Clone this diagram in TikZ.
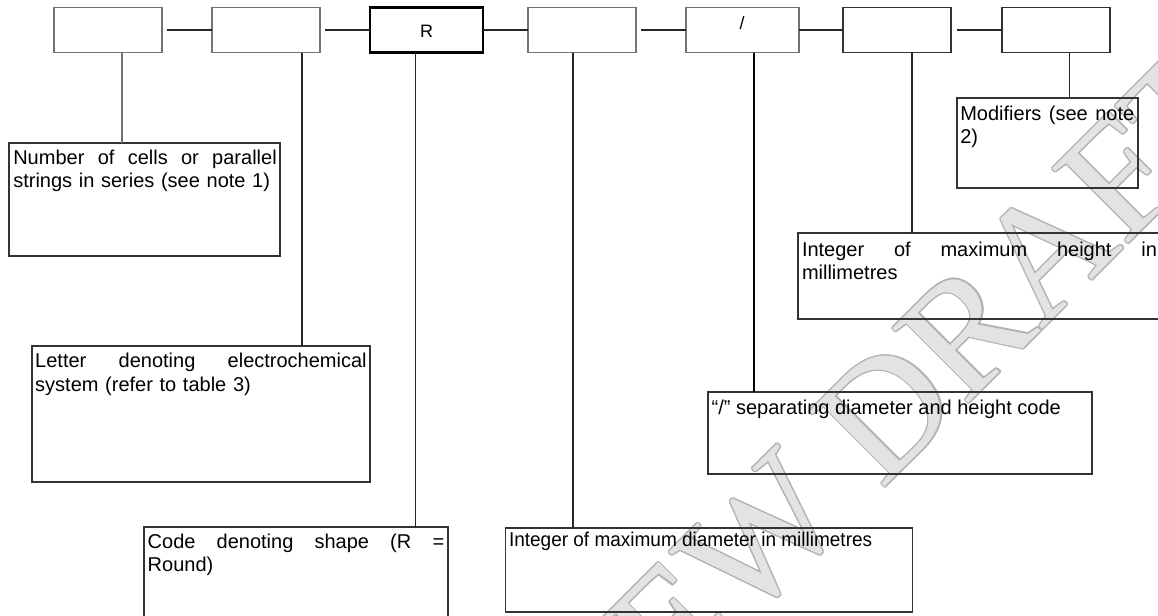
\documentclass[tikz,border=0pt]{standalone}
\usepackage{fontspec}
\setmainfont{Liberation Sans}
\newfontfamily\wmfont{Liberation Serif}
\newfontfamily\narrowfont[FakeStretch=0.95]{Liberation Sans}
\usetikzlibrary{fit,calc}
\newcommand{\jline}[1]{\hbox to \linewidth{#1}}
\begin{document}
\begin{tikzpicture}[x=0.75pt,y=-0.75pt,
  tbox/.style={draw=black!55, line width=0.8pt, inner sep=0pt, outer sep=0pt},
  rbox/.style={draw=black, line width=1.6pt, inner sep=0pt, outer sep=0pt},
  lbox/.style={draw=black!80, line width=0.8pt, inner sep=0pt, outer sep=0pt},
  conn/.style={draw=black!85, line width=0.8pt},
  gconn/.style={draw=black!55, line width=0.8pt},
  thconn/.style={draw=black, line width=1.5pt},
  lbl/.style={anchor=base west, inner sep=0pt, outer sep=0pt, align=left,
    font=\fontsize{15}{17.5}\selectfont},
  toptxt/.style={anchor=base, inner sep=0pt, font=\fontsize{13.5}{16}\selectfont},
  wmark/.style={rotate=45, inner sep=0pt,
    font=\wmfont\fontsize{122}{122}\selectfont}]
\useasboundingbox (0,0) rectangle (1158,615);
\clip (0,0) rectangle (1158,615);

% watermark: outline copies, then light fill
\foreach \a in {0,30,...,330}
  \node[wmark, text=black!30] (wmo\a) at ($(888,410)+(\a:1.3)$) {NEW DRAFT};
\node[wmark, text=black!11] (wm) at (888,410) {NEW DRAFT};

% top row
\node[tbox, fit={(54,7.5) (162,52.5)}] (t1) {};
\node[tbox, fit={(212,7.5) (320,52.5)}] (t2) {};
\node[rbox, fit={(370,7.5) (483,52.5)}] (t3) {};
\node[tbox, fit={(528,7.5) (636,52.5)}] (t4) {};
\node[tbox, fit={(686,7.5) (799,52.5)}] (t5) {};
\node[lbox, fit={(843,7.5) (951,52.5)}] (t6) {};
\node[lbox, fit={(1002,7.5) (1110,52.5)}] (t7) {};
\node[toptxt] (rtxt) at (426.5,37.3) {R};
\node[toptxt] (stxt) at (742,29) {/};

\draw[conn, shorten <=3.75pt] (t1.east) -- (t2.west);
\draw[conn, shorten <=3.75pt] (t2.east) -- (t3.west);
\draw[conn] (t3.east) -- (t4.west);
\draw[conn, shorten <=3.75pt] (t4.east) -- (t5.west);
\draw[conn] (t5.east) -- (t6.west);
\draw[conn, shorten <=4.5pt] (t6.east) -- (t7.west);

% label boxes
\node[lbox, fit={(9,143) (280,256)}] (A) {};
\node[lbox, fit={(32,346) (370,482)}] (B) {};
\node[lbox, fit={(144,527) (448,640)}] (C) {};
\node[lbox, fit={(505.5,528) (912.5,612)}] (D) {};
\node[lbox, fit={(708,392) (1092,474)}] (S) {};
\node[lbox, fit={(798,233) (1161,319)}] (H) {};
\node[lbox, fit={(957,98) (1138,188)}] (M) {};

% label texts
\node[lbl, text width=197.6pt] (At) at ($(A.north west)+(4.3,21.4)$)
  {\jline{Number \hfill of \hfill cells \hfill or \hfill parallel}\\strings in series (see note 1)};
\node[lbl, text width=248.6pt] (Bt) at ($(B.north west)+(3.2,21.7)$)
  {\jline{Letter \hfill denoting \hfill electrochemical}\\system (refer to table 3)};
\node[lbl, text width=222.4pt] (Ct) at ($(C.north west)+(3.7,21.3)$)
  {\jline{Code \hfill denoting \hfill shape \hfill (R \hfill =}\\Round)};
\node[lbl] (Dt) at ($(D.north west)+(3.5,18.5)$)
  {\narrowfont Integer of maximum diameter in millimetres};
\node[lbl] (St) at ($(S.north west)+(3.7,22)$)
  {“/” separating diameter and height code};
\node[lbl, text width=266.2pt] (Ht) at ($(H.north west)+(4,23)$)
  {\jline{Integer \hfill of \hfill maximum \hfill height \hfill in}\\millimetres};
\node[lbl, text width=130.5pt] (Mt) at ($(M.north west)+(3.3,22)$)
  {\jline{Modifiers \hfill (see \hfill note}\\2)};

% vertical connectors
\coordinate (x1) at (122,0);
\coordinate (x2) at (302,0);
\coordinate (x3) at (415.5,0);
\coordinate (x4) at (573,0);
\coordinate (x5) at (753.5,0);
\coordinate (x6) at (912,0);
\coordinate (x7) at (1069.5,0);
\draw[gconn] (x1 |- t1.south) -- (x1 |- A.north);
\draw[conn] (x2 |- t2.south) -- (x2 |- B.north);
\draw[conn] (x3 |- t3.south) -- (x3 |- C.north);
\draw[conn] (x4 |- t4.south) -- (x4 |- D.north);
\draw[thconn] (x5 |- t5.south) -- (x5 |- S.north);
\draw[conn] (x6 |- t6.south) -- (x6 |- H.north);
\draw[conn] (x7 |- t7.south) -- (x7 |- M.north);
\end{tikzpicture}
\end{document}
